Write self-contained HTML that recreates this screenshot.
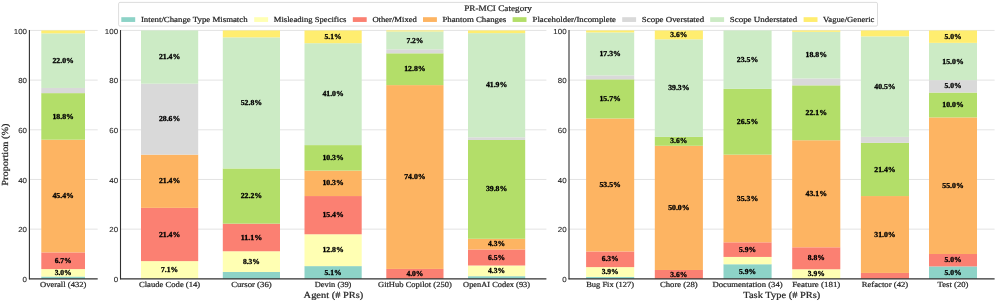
<!DOCTYPE html>
<html><head><meta charset="utf-8"><title>PR-MCI Category Proportions</title>
<style>
html,body{margin:0;padding:0;background:#ffffff;}
body{width:997px;height:302px;overflow:hidden;font-family:"Liberation Serif",serif;}
svg{display:block;will-change:transform;}
</style></head>
<body>
<svg width="997" height="302" viewBox="0 0 997 302" text-rendering="geometricPrecision">
<rect x="0" y="0" width="997" height="302" fill="#ffffff"/>
<line x1="29.40" x2="97.70" y1="229.17" y2="229.17" stroke="#d2d2d2" stroke-width="0.6"/>
<line x1="29.40" x2="97.70" y1="179.49" y2="179.49" stroke="#d2d2d2" stroke-width="0.6"/>
<line x1="29.40" x2="97.70" y1="129.81" y2="129.81" stroke="#d2d2d2" stroke-width="0.6"/>
<line x1="29.40" x2="97.70" y1="80.13" y2="80.13" stroke="#d2d2d2" stroke-width="0.6"/>
<line x1="29.40" x2="97.70" y1="30.45" y2="30.45" stroke="#d2d2d2" stroke-width="0.6"/>
<rect x="41.30" y="276.55" width="43.70" height="2.30" fill="#8dd3c7"/>
<rect x="41.30" y="269.08" width="43.70" height="7.47" fill="#ffffb3"/>
<rect x="41.30" y="252.40" width="43.70" height="16.68" fill="#fb8072"/>
<rect x="41.30" y="139.70" width="43.70" height="112.70" fill="#fdb462"/>
<rect x="41.30" y="93.12" width="43.70" height="46.58" fill="#b3de69"/>
<rect x="41.30" y="87.95" width="43.70" height="5.17" fill="#d9d9d9"/>
<rect x="41.30" y="33.32" width="43.70" height="54.63" fill="#ccebc5"/>
<rect x="41.30" y="30.45" width="43.70" height="2.88" fill="#ffed6f"/>
<text x="63.15" y="274.93" font-family="'Liberation Serif', serif" font-size="7.58" font-weight="bold" text-anchor="middle" textLength="17.00" lengthAdjust="spacingAndGlyphs" fill="#000000" stroke="#000000" stroke-width="0.3">3.0%</text>
<text x="63.15" y="262.85" font-family="'Liberation Serif', serif" font-size="7.58" font-weight="bold" text-anchor="middle" textLength="17.00" lengthAdjust="spacingAndGlyphs" fill="#000000" stroke="#000000" stroke-width="0.3">6.7%</text>
<text x="63.15" y="198.16" font-family="'Liberation Serif', serif" font-size="7.58" font-weight="bold" text-anchor="middle" textLength="21.40" lengthAdjust="spacingAndGlyphs" fill="#000000" stroke="#000000" stroke-width="0.3">45.4%</text>
<text x="63.15" y="118.53" font-family="'Liberation Serif', serif" font-size="7.58" font-weight="bold" text-anchor="middle" textLength="21.40" lengthAdjust="spacingAndGlyphs" fill="#000000" stroke="#000000" stroke-width="0.3">18.8%</text>
<text x="63.15" y="62.75" font-family="'Liberation Serif', serif" font-size="7.58" font-weight="bold" text-anchor="middle" textLength="21.40" lengthAdjust="spacingAndGlyphs" fill="#000000" stroke="#000000" stroke-width="0.3">22.0%</text>
<text x="63.15" y="286.65" font-family="'Liberation Serif', serif" font-size="7.76" font-weight="normal" text-anchor="middle" textLength="46.41" lengthAdjust="spacingAndGlyphs" fill="#262626" stroke="#262626" stroke-width="0.22">Overall (432)</text>
<line x1="29.40" x2="29.40" y1="30.05" y2="279.30" stroke="#303030" stroke-width="1.1"/>
<line x1="28.95" x2="97.70" y1="278.85" y2="278.85" stroke="#303030" stroke-width="1.1"/>
<text x="27.00" y="281.90" font-family="'Liberation Sans', sans-serif" font-size="7.28" font-weight="normal" text-anchor="end" textLength="4.41" lengthAdjust="spacingAndGlyphs" fill="#262626" stroke="#262626" stroke-width="0.1">0</text>
<text x="27.00" y="232.22" font-family="'Liberation Sans', sans-serif" font-size="7.28" font-weight="normal" text-anchor="end" textLength="8.82" lengthAdjust="spacingAndGlyphs" fill="#262626" stroke="#262626" stroke-width="0.1">20</text>
<text x="27.00" y="182.54" font-family="'Liberation Sans', sans-serif" font-size="7.28" font-weight="normal" text-anchor="end" textLength="8.82" lengthAdjust="spacingAndGlyphs" fill="#262626" stroke="#262626" stroke-width="0.1">40</text>
<text x="27.00" y="132.86" font-family="'Liberation Sans', sans-serif" font-size="7.28" font-weight="normal" text-anchor="end" textLength="8.82" lengthAdjust="spacingAndGlyphs" fill="#262626" stroke="#262626" stroke-width="0.1">60</text>
<text x="27.00" y="83.18" font-family="'Liberation Sans', sans-serif" font-size="7.28" font-weight="normal" text-anchor="end" textLength="8.82" lengthAdjust="spacingAndGlyphs" fill="#262626" stroke="#262626" stroke-width="0.1">80</text>
<text x="27.00" y="33.50" font-family="'Liberation Sans', sans-serif" font-size="7.28" font-weight="normal" text-anchor="end" textLength="13.23" lengthAdjust="spacingAndGlyphs" fill="#262626" stroke="#262626" stroke-width="0.1">100</text>
<line x1="120.50" x2="546.40" y1="229.17" y2="229.17" stroke="#d2d2d2" stroke-width="0.6"/>
<line x1="120.50" x2="546.40" y1="179.49" y2="179.49" stroke="#d2d2d2" stroke-width="0.6"/>
<line x1="120.50" x2="546.40" y1="129.81" y2="129.81" stroke="#d2d2d2" stroke-width="0.6"/>
<line x1="120.50" x2="546.40" y1="80.13" y2="80.13" stroke="#d2d2d2" stroke-width="0.6"/>
<line x1="120.50" x2="546.40" y1="30.45" y2="30.45" stroke="#d2d2d2" stroke-width="0.6"/>
<rect x="141.00" y="261.11" width="57.20" height="17.74" fill="#ffffb3"/>
<rect x="141.00" y="207.88" width="57.20" height="53.23" fill="#fb8072"/>
<rect x="141.00" y="154.65" width="57.20" height="53.23" fill="#fdb462"/>
<rect x="141.00" y="83.68" width="57.20" height="70.97" fill="#d9d9d9"/>
<rect x="141.00" y="30.45" width="57.20" height="53.23" fill="#ccebc5"/>
<text x="169.60" y="272.09" font-family="'Liberation Serif', serif" font-size="7.58" font-weight="bold" text-anchor="middle" textLength="17.00" lengthAdjust="spacingAndGlyphs" fill="#000000" stroke="#000000" stroke-width="0.3">7.1%</text>
<text x="169.60" y="236.61" font-family="'Liberation Serif', serif" font-size="7.58" font-weight="bold" text-anchor="middle" textLength="21.40" lengthAdjust="spacingAndGlyphs" fill="#000000" stroke="#000000" stroke-width="0.3">21.4%</text>
<text x="169.60" y="183.38" font-family="'Liberation Serif', serif" font-size="7.58" font-weight="bold" text-anchor="middle" textLength="21.40" lengthAdjust="spacingAndGlyphs" fill="#000000" stroke="#000000" stroke-width="0.3">21.4%</text>
<text x="169.60" y="121.28" font-family="'Liberation Serif', serif" font-size="7.58" font-weight="bold" text-anchor="middle" textLength="21.40" lengthAdjust="spacingAndGlyphs" fill="#000000" stroke="#000000" stroke-width="0.3">28.6%</text>
<text x="169.60" y="59.18" font-family="'Liberation Serif', serif" font-size="7.58" font-weight="bold" text-anchor="middle" textLength="21.40" lengthAdjust="spacingAndGlyphs" fill="#000000" stroke="#000000" stroke-width="0.3">21.4%</text>
<text x="169.60" y="286.65" font-family="'Liberation Serif', serif" font-size="7.76" font-weight="normal" text-anchor="middle" textLength="61.30" lengthAdjust="spacingAndGlyphs" fill="#262626" stroke="#262626" stroke-width="0.22">Claude Code (14)</text>
<rect x="222.80" y="271.95" width="57.20" height="6.90" fill="#8dd3c7"/>
<rect x="222.80" y="251.25" width="57.20" height="20.70" fill="#ffffb3"/>
<rect x="222.80" y="223.65" width="57.20" height="27.60" fill="#fb8072"/>
<rect x="222.80" y="168.45" width="57.20" height="55.20" fill="#b3de69"/>
<rect x="222.80" y="37.35" width="57.20" height="131.10" fill="#ccebc5"/>
<rect x="222.80" y="30.45" width="57.20" height="6.90" fill="#ffed6f"/>
<text x="251.40" y="263.71" font-family="'Liberation Serif', serif" font-size="7.58" font-weight="bold" text-anchor="middle" textLength="17.00" lengthAdjust="spacingAndGlyphs" fill="#000000" stroke="#000000" stroke-width="0.3">8.3%</text>
<text x="251.40" y="239.56" font-family="'Liberation Serif', serif" font-size="7.58" font-weight="bold" text-anchor="middle" textLength="21.40" lengthAdjust="spacingAndGlyphs" fill="#000000" stroke="#000000" stroke-width="0.3">11.1%</text>
<text x="251.40" y="198.16" font-family="'Liberation Serif', serif" font-size="7.58" font-weight="bold" text-anchor="middle" textLength="21.40" lengthAdjust="spacingAndGlyphs" fill="#000000" stroke="#000000" stroke-width="0.3">22.2%</text>
<text x="251.40" y="105.01" font-family="'Liberation Serif', serif" font-size="7.58" font-weight="bold" text-anchor="middle" textLength="21.40" lengthAdjust="spacingAndGlyphs" fill="#000000" stroke="#000000" stroke-width="0.3">52.8%</text>
<text x="251.40" y="286.65" font-family="'Liberation Serif', serif" font-size="7.76" font-weight="normal" text-anchor="middle" textLength="40.55" lengthAdjust="spacingAndGlyphs" fill="#262626" stroke="#262626" stroke-width="0.22">Cursor (36)</text>
<rect x="304.50" y="266.11" width="57.20" height="12.74" fill="#8dd3c7"/>
<rect x="304.50" y="234.27" width="57.20" height="31.85" fill="#ffffb3"/>
<rect x="304.50" y="196.05" width="57.20" height="38.22" fill="#fb8072"/>
<rect x="304.50" y="170.57" width="57.20" height="25.48" fill="#fdb462"/>
<rect x="304.50" y="145.10" width="57.20" height="25.48" fill="#b3de69"/>
<rect x="304.50" y="43.19" width="57.20" height="101.91" fill="#ccebc5"/>
<rect x="304.50" y="30.45" width="57.20" height="12.74" fill="#ffed6f"/>
<text x="333.10" y="274.59" font-family="'Liberation Serif', serif" font-size="7.58" font-weight="bold" text-anchor="middle" textLength="17.00" lengthAdjust="spacingAndGlyphs" fill="#000000" stroke="#000000" stroke-width="0.3">5.1%</text>
<text x="333.10" y="252.30" font-family="'Liberation Serif', serif" font-size="7.58" font-weight="bold" text-anchor="middle" textLength="21.40" lengthAdjust="spacingAndGlyphs" fill="#000000" stroke="#000000" stroke-width="0.3">12.8%</text>
<text x="333.10" y="217.27" font-family="'Liberation Serif', serif" font-size="7.58" font-weight="bold" text-anchor="middle" textLength="21.40" lengthAdjust="spacingAndGlyphs" fill="#000000" stroke="#000000" stroke-width="0.3">15.4%</text>
<text x="333.10" y="185.42" font-family="'Liberation Serif', serif" font-size="7.58" font-weight="bold" text-anchor="middle" textLength="21.40" lengthAdjust="spacingAndGlyphs" fill="#000000" stroke="#000000" stroke-width="0.3">10.3%</text>
<text x="333.10" y="159.95" font-family="'Liberation Serif', serif" font-size="7.58" font-weight="bold" text-anchor="middle" textLength="21.40" lengthAdjust="spacingAndGlyphs" fill="#000000" stroke="#000000" stroke-width="0.3">10.3%</text>
<text x="333.10" y="96.26" font-family="'Liberation Serif', serif" font-size="7.58" font-weight="bold" text-anchor="middle" textLength="21.40" lengthAdjust="spacingAndGlyphs" fill="#000000" stroke="#000000" stroke-width="0.3">41.0%</text>
<text x="333.10" y="38.93" font-family="'Liberation Serif', serif" font-size="7.58" font-weight="bold" text-anchor="middle" textLength="17.00" lengthAdjust="spacingAndGlyphs" fill="#000000" stroke="#000000" stroke-width="0.3">5.1%</text>
<text x="333.10" y="286.65" font-family="'Liberation Serif', serif" font-size="7.76" font-weight="normal" text-anchor="middle" textLength="36.68" lengthAdjust="spacingAndGlyphs" fill="#262626" stroke="#262626" stroke-width="0.22">Devin (39)</text>
<rect x="386.30" y="268.91" width="57.20" height="9.94" fill="#fb8072"/>
<rect x="386.30" y="85.10" width="57.20" height="183.82" fill="#fdb462"/>
<rect x="386.30" y="53.30" width="57.20" height="31.80" fill="#b3de69"/>
<rect x="386.30" y="49.33" width="57.20" height="3.97" fill="#d9d9d9"/>
<rect x="386.30" y="31.44" width="57.20" height="17.88" fill="#ccebc5"/>
<rect x="386.30" y="30.45" width="57.20" height="0.99" fill="#ffed6f"/>
<text x="414.90" y="276.00" font-family="'Liberation Serif', serif" font-size="7.58" font-weight="bold" text-anchor="middle" textLength="17.00" lengthAdjust="spacingAndGlyphs" fill="#000000" stroke="#000000" stroke-width="0.3">4.0%</text>
<text x="414.90" y="179.12" font-family="'Liberation Serif', serif" font-size="7.58" font-weight="bold" text-anchor="middle" textLength="21.40" lengthAdjust="spacingAndGlyphs" fill="#000000" stroke="#000000" stroke-width="0.3">74.0%</text>
<text x="414.90" y="71.31" font-family="'Liberation Serif', serif" font-size="7.58" font-weight="bold" text-anchor="middle" textLength="21.40" lengthAdjust="spacingAndGlyphs" fill="#000000" stroke="#000000" stroke-width="0.3">12.8%</text>
<text x="414.90" y="42.50" font-family="'Liberation Serif', serif" font-size="7.58" font-weight="bold" text-anchor="middle" textLength="17.00" lengthAdjust="spacingAndGlyphs" fill="#000000" stroke="#000000" stroke-width="0.3">7.2%</text>
<text x="414.90" y="286.65" font-family="'Liberation Serif', serif" font-size="7.76" font-weight="normal" text-anchor="middle" textLength="73.82" lengthAdjust="spacingAndGlyphs" fill="#262626" stroke="#262626" stroke-width="0.22">GitHub Copilot (250)</text>
<rect x="468.00" y="276.18" width="57.20" height="2.67" fill="#8dd3c7"/>
<rect x="468.00" y="265.50" width="57.20" height="10.68" fill="#ffffb3"/>
<rect x="468.00" y="249.47" width="57.20" height="16.03" fill="#fb8072"/>
<rect x="468.00" y="238.79" width="57.20" height="10.68" fill="#fdb462"/>
<rect x="468.00" y="139.96" width="57.20" height="98.83" fill="#b3de69"/>
<rect x="468.00" y="137.29" width="57.20" height="2.67" fill="#d9d9d9"/>
<rect x="468.00" y="33.12" width="57.20" height="104.17" fill="#ccebc5"/>
<rect x="468.00" y="30.45" width="57.20" height="2.67" fill="#ffed6f"/>
<text x="496.60" y="272.95" font-family="'Liberation Serif', serif" font-size="7.58" font-weight="bold" text-anchor="middle" textLength="17.00" lengthAdjust="spacingAndGlyphs" fill="#000000" stroke="#000000" stroke-width="0.3">4.3%</text>
<text x="496.60" y="259.60" font-family="'Liberation Serif', serif" font-size="7.58" font-weight="bold" text-anchor="middle" textLength="17.00" lengthAdjust="spacingAndGlyphs" fill="#000000" stroke="#000000" stroke-width="0.3">6.5%</text>
<text x="496.60" y="246.24" font-family="'Liberation Serif', serif" font-size="7.58" font-weight="bold" text-anchor="middle" textLength="17.00" lengthAdjust="spacingAndGlyphs" fill="#000000" stroke="#000000" stroke-width="0.3">4.3%</text>
<text x="496.60" y="191.49" font-family="'Liberation Serif', serif" font-size="7.58" font-weight="bold" text-anchor="middle" textLength="21.40" lengthAdjust="spacingAndGlyphs" fill="#000000" stroke="#000000" stroke-width="0.3">39.8%</text>
<text x="496.60" y="87.32" font-family="'Liberation Serif', serif" font-size="7.58" font-weight="bold" text-anchor="middle" textLength="21.40" lengthAdjust="spacingAndGlyphs" fill="#000000" stroke="#000000" stroke-width="0.3">41.9%</text>
<text x="496.60" y="286.65" font-family="'Liberation Serif', serif" font-size="7.76" font-weight="normal" text-anchor="middle" textLength="66.98" lengthAdjust="spacingAndGlyphs" fill="#262626" stroke="#262626" stroke-width="0.22">OpenAI Codex (93)</text>
<line x1="120.50" x2="120.50" y1="30.05" y2="279.30" stroke="#303030" stroke-width="1.1"/>
<line x1="120.05" x2="546.40" y1="278.85" y2="278.85" stroke="#303030" stroke-width="1.1"/>
<text x="118.10" y="281.90" font-family="'Liberation Sans', sans-serif" font-size="7.28" font-weight="normal" text-anchor="end" textLength="4.41" lengthAdjust="spacingAndGlyphs" fill="#262626" stroke="#262626" stroke-width="0.1">0</text>
<text x="118.10" y="232.22" font-family="'Liberation Sans', sans-serif" font-size="7.28" font-weight="normal" text-anchor="end" textLength="8.82" lengthAdjust="spacingAndGlyphs" fill="#262626" stroke="#262626" stroke-width="0.1">20</text>
<text x="118.10" y="182.54" font-family="'Liberation Sans', sans-serif" font-size="7.28" font-weight="normal" text-anchor="end" textLength="8.82" lengthAdjust="spacingAndGlyphs" fill="#262626" stroke="#262626" stroke-width="0.1">40</text>
<text x="118.10" y="132.86" font-family="'Liberation Sans', sans-serif" font-size="7.28" font-weight="normal" text-anchor="end" textLength="8.82" lengthAdjust="spacingAndGlyphs" fill="#262626" stroke="#262626" stroke-width="0.1">60</text>
<text x="118.10" y="83.18" font-family="'Liberation Sans', sans-serif" font-size="7.28" font-weight="normal" text-anchor="end" textLength="8.82" lengthAdjust="spacingAndGlyphs" fill="#262626" stroke="#262626" stroke-width="0.1">80</text>
<text x="118.10" y="33.50" font-family="'Liberation Sans', sans-serif" font-size="7.28" font-weight="normal" text-anchor="end" textLength="13.23" lengthAdjust="spacingAndGlyphs" fill="#262626" stroke="#262626" stroke-width="0.1">100</text>
<text x="333.45" y="297.60" font-family="'Liberation Serif', serif" font-size="9.30" font-weight="normal" text-anchor="middle" textLength="59.70" lengthAdjust="spacingAndGlyphs" fill="#262626" stroke="#262626" stroke-width="0.22">Agent (# PRs)</text>
<line x1="569.00" x2="994.60" y1="229.17" y2="229.17" stroke="#d2d2d2" stroke-width="0.6"/>
<line x1="569.00" x2="994.60" y1="179.49" y2="179.49" stroke="#d2d2d2" stroke-width="0.6"/>
<line x1="569.00" x2="994.60" y1="129.81" y2="129.81" stroke="#d2d2d2" stroke-width="0.6"/>
<line x1="569.00" x2="994.60" y1="80.13" y2="80.13" stroke="#d2d2d2" stroke-width="0.6"/>
<line x1="569.00" x2="994.60" y1="30.45" y2="30.45" stroke="#d2d2d2" stroke-width="0.6"/>
<rect x="586.10" y="276.89" width="48.10" height="1.96" fill="#8dd3c7"/>
<rect x="586.10" y="267.11" width="48.10" height="9.78" fill="#ffffb3"/>
<rect x="586.10" y="251.47" width="48.10" height="15.65" fill="#fb8072"/>
<rect x="586.10" y="118.47" width="48.10" height="133.00" fill="#fdb462"/>
<rect x="586.10" y="79.35" width="48.10" height="39.12" fill="#b3de69"/>
<rect x="586.10" y="75.44" width="48.10" height="3.91" fill="#d9d9d9"/>
<rect x="586.10" y="32.41" width="48.10" height="43.03" fill="#ccebc5"/>
<rect x="586.10" y="30.45" width="48.10" height="1.96" fill="#ffed6f"/>
<text x="610.15" y="274.12" font-family="'Liberation Serif', serif" font-size="7.58" font-weight="bold" text-anchor="middle" textLength="17.00" lengthAdjust="spacingAndGlyphs" fill="#000000" stroke="#000000" stroke-width="0.3">3.9%</text>
<text x="610.15" y="261.40" font-family="'Liberation Serif', serif" font-size="7.58" font-weight="bold" text-anchor="middle" textLength="17.00" lengthAdjust="spacingAndGlyphs" fill="#000000" stroke="#000000" stroke-width="0.3">6.3%</text>
<text x="610.15" y="187.08" font-family="'Liberation Serif', serif" font-size="7.58" font-weight="bold" text-anchor="middle" textLength="21.40" lengthAdjust="spacingAndGlyphs" fill="#000000" stroke="#000000" stroke-width="0.3">53.5%</text>
<text x="610.15" y="101.02" font-family="'Liberation Serif', serif" font-size="7.58" font-weight="bold" text-anchor="middle" textLength="21.40" lengthAdjust="spacingAndGlyphs" fill="#000000" stroke="#000000" stroke-width="0.3">15.7%</text>
<text x="610.15" y="56.03" font-family="'Liberation Serif', serif" font-size="7.58" font-weight="bold" text-anchor="middle" textLength="21.40" lengthAdjust="spacingAndGlyphs" fill="#000000" stroke="#000000" stroke-width="0.3">17.3%</text>
<text x="610.15" y="286.65" font-family="'Liberation Serif', serif" font-size="7.76" font-weight="normal" text-anchor="middle" textLength="47.97" lengthAdjust="spacingAndGlyphs" fill="#262626" stroke="#262626" stroke-width="0.22">Bug Fix (127)</text>
<rect x="654.80" y="269.98" width="48.10" height="8.87" fill="#fb8072"/>
<rect x="654.80" y="145.78" width="48.10" height="124.20" fill="#fdb462"/>
<rect x="654.80" y="136.91" width="48.10" height="8.87" fill="#b3de69"/>
<rect x="654.80" y="39.32" width="48.10" height="97.59" fill="#ccebc5"/>
<rect x="654.80" y="30.45" width="48.10" height="8.87" fill="#ffed6f"/>
<text x="678.85" y="276.53" font-family="'Liberation Serif', serif" font-size="7.58" font-weight="bold" text-anchor="middle" textLength="17.00" lengthAdjust="spacingAndGlyphs" fill="#000000" stroke="#000000" stroke-width="0.3">3.6%</text>
<text x="678.85" y="209.99" font-family="'Liberation Serif', serif" font-size="7.58" font-weight="bold" text-anchor="middle" textLength="21.40" lengthAdjust="spacingAndGlyphs" fill="#000000" stroke="#000000" stroke-width="0.3">50.0%</text>
<text x="678.85" y="143.46" font-family="'Liberation Serif', serif" font-size="7.58" font-weight="bold" text-anchor="middle" textLength="17.00" lengthAdjust="spacingAndGlyphs" fill="#000000" stroke="#000000" stroke-width="0.3">3.6%</text>
<text x="678.85" y="90.23" font-family="'Liberation Serif', serif" font-size="7.58" font-weight="bold" text-anchor="middle" textLength="21.40" lengthAdjust="spacingAndGlyphs" fill="#000000" stroke="#000000" stroke-width="0.3">39.3%</text>
<text x="678.85" y="37.00" font-family="'Liberation Serif', serif" font-size="7.58" font-weight="bold" text-anchor="middle" textLength="17.00" lengthAdjust="spacingAndGlyphs" fill="#000000" stroke="#000000" stroke-width="0.3">3.6%</text>
<text x="678.85" y="286.65" font-family="'Liberation Serif', serif" font-size="7.76" font-weight="normal" text-anchor="middle" textLength="37.78" lengthAdjust="spacingAndGlyphs" fill="#262626" stroke="#262626" stroke-width="0.22">Chore (28)</text>
<rect x="723.50" y="264.24" width="48.10" height="14.61" fill="#8dd3c7"/>
<rect x="723.50" y="256.93" width="48.10" height="7.31" fill="#ffffb3"/>
<rect x="723.50" y="242.32" width="48.10" height="14.61" fill="#fb8072"/>
<rect x="723.50" y="154.65" width="48.10" height="87.67" fill="#fdb462"/>
<rect x="723.50" y="88.90" width="48.10" height="65.75" fill="#b3de69"/>
<rect x="723.50" y="30.45" width="48.10" height="58.45" fill="#ccebc5"/>
<text x="747.55" y="273.66" font-family="'Liberation Serif', serif" font-size="7.58" font-weight="bold" text-anchor="middle" textLength="17.00" lengthAdjust="spacingAndGlyphs" fill="#000000" stroke="#000000" stroke-width="0.3">5.9%</text>
<text x="747.55" y="251.74" font-family="'Liberation Serif', serif" font-size="7.58" font-weight="bold" text-anchor="middle" textLength="17.00" lengthAdjust="spacingAndGlyphs" fill="#000000" stroke="#000000" stroke-width="0.3">5.9%</text>
<text x="747.55" y="200.60" font-family="'Liberation Serif', serif" font-size="7.58" font-weight="bold" text-anchor="middle" textLength="21.40" lengthAdjust="spacingAndGlyphs" fill="#000000" stroke="#000000" stroke-width="0.3">35.3%</text>
<text x="747.55" y="123.89" font-family="'Liberation Serif', serif" font-size="7.58" font-weight="bold" text-anchor="middle" textLength="21.40" lengthAdjust="spacingAndGlyphs" fill="#000000" stroke="#000000" stroke-width="0.3">26.5%</text>
<text x="747.55" y="61.79" font-family="'Liberation Serif', serif" font-size="7.58" font-weight="bold" text-anchor="middle" textLength="21.40" lengthAdjust="spacingAndGlyphs" fill="#000000" stroke="#000000" stroke-width="0.3">23.5%</text>
<text x="747.55" y="286.65" font-family="'Liberation Serif', serif" font-size="7.76" font-weight="normal" text-anchor="middle" textLength="70.19" lengthAdjust="spacingAndGlyphs" fill="#262626" stroke="#262626" stroke-width="0.22">Documentation (34)</text>
<rect x="792.20" y="269.24" width="48.10" height="9.61" fill="#ffffb3"/>
<rect x="792.20" y="247.29" width="48.10" height="21.96" fill="#fb8072"/>
<rect x="792.20" y="140.24" width="48.10" height="107.05" fill="#fdb462"/>
<rect x="792.20" y="85.35" width="48.10" height="54.90" fill="#b3de69"/>
<rect x="792.20" y="78.48" width="48.10" height="6.86" fill="#d9d9d9"/>
<rect x="792.20" y="31.82" width="48.10" height="46.66" fill="#ccebc5"/>
<rect x="792.20" y="30.45" width="48.10" height="1.37" fill="#ffed6f"/>
<text x="816.25" y="276.16" font-family="'Liberation Serif', serif" font-size="7.58" font-weight="bold" text-anchor="middle" textLength="17.00" lengthAdjust="spacingAndGlyphs" fill="#000000" stroke="#000000" stroke-width="0.3">3.9%</text>
<text x="816.25" y="260.38" font-family="'Liberation Serif', serif" font-size="7.58" font-weight="bold" text-anchor="middle" textLength="17.00" lengthAdjust="spacingAndGlyphs" fill="#000000" stroke="#000000" stroke-width="0.3">8.8%</text>
<text x="816.25" y="195.88" font-family="'Liberation Serif', serif" font-size="7.58" font-weight="bold" text-anchor="middle" textLength="21.40" lengthAdjust="spacingAndGlyphs" fill="#000000" stroke="#000000" stroke-width="0.3">43.1%</text>
<text x="816.25" y="114.91" font-family="'Liberation Serif', serif" font-size="7.58" font-weight="bold" text-anchor="middle" textLength="21.40" lengthAdjust="spacingAndGlyphs" fill="#000000" stroke="#000000" stroke-width="0.3">22.1%</text>
<text x="816.25" y="57.27" font-family="'Liberation Serif', serif" font-size="7.58" font-weight="bold" text-anchor="middle" textLength="21.40" lengthAdjust="spacingAndGlyphs" fill="#000000" stroke="#000000" stroke-width="0.3">18.8%</text>
<text x="816.25" y="286.65" font-family="'Liberation Serif', serif" font-size="7.76" font-weight="normal" text-anchor="middle" textLength="48.16" lengthAdjust="spacingAndGlyphs" fill="#262626" stroke="#262626" stroke-width="0.22">Feature (181)</text>
<rect x="860.90" y="272.94" width="48.10" height="5.91" fill="#fb8072"/>
<rect x="860.90" y="196.05" width="48.10" height="76.89" fill="#fdb462"/>
<rect x="860.90" y="142.82" width="48.10" height="53.23" fill="#b3de69"/>
<rect x="860.90" y="136.91" width="48.10" height="5.91" fill="#d9d9d9"/>
<rect x="860.90" y="36.36" width="48.10" height="100.54" fill="#ccebc5"/>
<rect x="860.90" y="30.45" width="48.10" height="5.91" fill="#ffed6f"/>
<text x="884.95" y="236.61" font-family="'Liberation Serif', serif" font-size="7.58" font-weight="bold" text-anchor="middle" textLength="21.40" lengthAdjust="spacingAndGlyphs" fill="#000000" stroke="#000000" stroke-width="0.3">31.0%</text>
<text x="884.95" y="171.55" font-family="'Liberation Serif', serif" font-size="7.58" font-weight="bold" text-anchor="middle" textLength="21.40" lengthAdjust="spacingAndGlyphs" fill="#000000" stroke="#000000" stroke-width="0.3">21.4%</text>
<text x="884.95" y="88.75" font-family="'Liberation Serif', serif" font-size="7.58" font-weight="bold" text-anchor="middle" textLength="21.40" lengthAdjust="spacingAndGlyphs" fill="#000000" stroke="#000000" stroke-width="0.3">40.5%</text>
<text x="884.95" y="286.65" font-family="'Liberation Serif', serif" font-size="7.76" font-weight="normal" text-anchor="middle" textLength="46.60" lengthAdjust="spacingAndGlyphs" fill="#262626" stroke="#262626" stroke-width="0.22">Refactor (42)</text>
<rect x="929.00" y="266.43" width="48.00" height="12.42" fill="#8dd3c7"/>
<rect x="929.00" y="254.01" width="48.00" height="12.42" fill="#fb8072"/>
<rect x="929.00" y="117.39" width="48.00" height="136.62" fill="#fdb462"/>
<rect x="929.00" y="92.55" width="48.00" height="24.84" fill="#b3de69"/>
<rect x="929.00" y="80.13" width="48.00" height="12.42" fill="#d9d9d9"/>
<rect x="929.00" y="42.87" width="48.00" height="37.26" fill="#ccebc5"/>
<rect x="929.00" y="30.45" width="48.00" height="12.42" fill="#ffed6f"/>
<text x="953.00" y="274.75" font-family="'Liberation Serif', serif" font-size="7.58" font-weight="bold" text-anchor="middle" textLength="17.00" lengthAdjust="spacingAndGlyphs" fill="#000000" stroke="#000000" stroke-width="0.3">5.0%</text>
<text x="953.00" y="262.33" font-family="'Liberation Serif', serif" font-size="7.58" font-weight="bold" text-anchor="middle" textLength="17.00" lengthAdjust="spacingAndGlyphs" fill="#000000" stroke="#000000" stroke-width="0.3">5.0%</text>
<text x="953.00" y="187.81" font-family="'Liberation Serif', serif" font-size="7.58" font-weight="bold" text-anchor="middle" textLength="21.40" lengthAdjust="spacingAndGlyphs" fill="#000000" stroke="#000000" stroke-width="0.3">55.0%</text>
<text x="953.00" y="107.08" font-family="'Liberation Serif', serif" font-size="7.58" font-weight="bold" text-anchor="middle" textLength="21.40" lengthAdjust="spacingAndGlyphs" fill="#000000" stroke="#000000" stroke-width="0.3">10.0%</text>
<text x="953.00" y="88.45" font-family="'Liberation Serif', serif" font-size="7.58" font-weight="bold" text-anchor="middle" textLength="17.00" lengthAdjust="spacingAndGlyphs" fill="#000000" stroke="#000000" stroke-width="0.3">5.0%</text>
<text x="953.00" y="63.61" font-family="'Liberation Serif', serif" font-size="7.58" font-weight="bold" text-anchor="middle" textLength="21.40" lengthAdjust="spacingAndGlyphs" fill="#000000" stroke="#000000" stroke-width="0.3">15.0%</text>
<text x="953.00" y="38.77" font-family="'Liberation Serif', serif" font-size="7.58" font-weight="bold" text-anchor="middle" textLength="17.00" lengthAdjust="spacingAndGlyphs" fill="#000000" stroke="#000000" stroke-width="0.3">5.0%</text>
<text x="953.00" y="286.65" font-family="'Liberation Serif', serif" font-size="7.76" font-weight="normal" text-anchor="middle" textLength="30.96" lengthAdjust="spacingAndGlyphs" fill="#262626" stroke="#262626" stroke-width="0.22">Test (20)</text>
<line x1="569.00" x2="569.00" y1="30.05" y2="279.30" stroke="#303030" stroke-width="1.1"/>
<line x1="568.55" x2="994.60" y1="278.85" y2="278.85" stroke="#303030" stroke-width="1.1"/>
<text x="566.60" y="281.90" font-family="'Liberation Sans', sans-serif" font-size="7.28" font-weight="normal" text-anchor="end" textLength="4.41" lengthAdjust="spacingAndGlyphs" fill="#262626" stroke="#262626" stroke-width="0.1">0</text>
<text x="566.60" y="232.22" font-family="'Liberation Sans', sans-serif" font-size="7.28" font-weight="normal" text-anchor="end" textLength="8.82" lengthAdjust="spacingAndGlyphs" fill="#262626" stroke="#262626" stroke-width="0.1">20</text>
<text x="566.60" y="182.54" font-family="'Liberation Sans', sans-serif" font-size="7.28" font-weight="normal" text-anchor="end" textLength="8.82" lengthAdjust="spacingAndGlyphs" fill="#262626" stroke="#262626" stroke-width="0.1">40</text>
<text x="566.60" y="132.86" font-family="'Liberation Sans', sans-serif" font-size="7.28" font-weight="normal" text-anchor="end" textLength="8.82" lengthAdjust="spacingAndGlyphs" fill="#262626" stroke="#262626" stroke-width="0.1">60</text>
<text x="566.60" y="83.18" font-family="'Liberation Sans', sans-serif" font-size="7.28" font-weight="normal" text-anchor="end" textLength="8.82" lengthAdjust="spacingAndGlyphs" fill="#262626" stroke="#262626" stroke-width="0.1">80</text>
<text x="566.60" y="33.50" font-family="'Liberation Sans', sans-serif" font-size="7.28" font-weight="normal" text-anchor="end" textLength="13.23" lengthAdjust="spacingAndGlyphs" fill="#262626" stroke="#262626" stroke-width="0.1">100</text>
<text x="781.80" y="297.60" font-family="'Liberation Serif', serif" font-size="9.30" font-weight="normal" text-anchor="middle" textLength="77.02" lengthAdjust="spacingAndGlyphs" fill="#262626" stroke="#262626" stroke-width="0.22">Task Type (# PRs)</text>
<g transform="translate(8.1,154.6) rotate(-90)">
<text x="0.00" y="0.00" font-family="'Liberation Serif', serif" font-size="9.30" font-weight="normal" text-anchor="middle" textLength="62.16" lengthAdjust="spacingAndGlyphs" fill="#262626" stroke="#262626" stroke-width="0.22">Proportion (%)</text>
</g>
<rect x="118.6" y="2.4" width="758.9" height="23.7" rx="1.4" ry="1.4" fill="#ffffff" fill-opacity="0.8" stroke="#cfcfcf" stroke-width="0.7"/>
<text x="498.10" y="11.45" font-family="'Liberation Serif', serif" font-size="8.51" font-weight="normal" text-anchor="middle" textLength="67.68" lengthAdjust="spacingAndGlyphs" fill="#262626" stroke="#262626" stroke-width="0.22">PR-MCI Category</text>
<rect x="121.30" y="17.2" width="13.9" height="4.75" fill="#8dd3c7"/>
<text x="140.90" y="21.90" font-family="'Liberation Serif', serif" font-size="7.76" font-weight="normal" text-anchor="start" textLength="106.75" lengthAdjust="spacingAndGlyphs" fill="#262626" stroke="#262626" stroke-width="0.22">Intent/Change Type Mismatch</text>
<rect x="254.20" y="17.2" width="13.9" height="4.75" fill="#ffffb3"/>
<text x="273.80" y="21.90" font-family="'Liberation Serif', serif" font-size="7.76" font-weight="normal" text-anchor="start" textLength="72.52" lengthAdjust="spacingAndGlyphs" fill="#262626" stroke="#262626" stroke-width="0.22">Misleading Specifics</text>
<rect x="352.80" y="17.2" width="13.9" height="4.75" fill="#fb8072"/>
<text x="372.40" y="21.90" font-family="'Liberation Serif', serif" font-size="7.76" font-weight="normal" text-anchor="start" textLength="44.44" lengthAdjust="spacingAndGlyphs" fill="#262626" stroke="#262626" stroke-width="0.22">Other/Mixed</text>
<rect x="423.00" y="17.2" width="13.9" height="4.75" fill="#fdb462"/>
<text x="442.40" y="21.90" font-family="'Liberation Serif', serif" font-size="7.76" font-weight="normal" text-anchor="start" textLength="63.91" lengthAdjust="spacingAndGlyphs" fill="#262626" stroke="#262626" stroke-width="0.22">Phantom Changes</text>
<rect x="512.60" y="17.2" width="13.9" height="4.75" fill="#b3de69"/>
<text x="532.50" y="21.90" font-family="'Liberation Serif', serif" font-size="7.76" font-weight="normal" text-anchor="start" textLength="83.50" lengthAdjust="spacingAndGlyphs" fill="#262626" stroke="#262626" stroke-width="0.22">Placeholder/Incomplete</text>
<rect x="622.20" y="17.2" width="13.9" height="4.75" fill="#d9d9d9"/>
<text x="641.85" y="21.90" font-family="'Liberation Serif', serif" font-size="7.76" font-weight="normal" text-anchor="start" textLength="62.35" lengthAdjust="spacingAndGlyphs" fill="#262626" stroke="#262626" stroke-width="0.22">Scope Overstated</text>
<rect x="710.20" y="17.2" width="13.9" height="4.75" fill="#ccebc5"/>
<text x="729.70" y="21.90" font-family="'Liberation Serif', serif" font-size="7.76" font-weight="normal" text-anchor="start" textLength="67.49" lengthAdjust="spacingAndGlyphs" fill="#262626" stroke="#262626" stroke-width="0.22">Scope Understated</text>
<rect x="803.60" y="17.2" width="13.9" height="4.75" fill="#ffed6f"/>
<text x="823.00" y="21.90" font-family="'Liberation Serif', serif" font-size="7.76" font-weight="normal" text-anchor="start" textLength="51.45" lengthAdjust="spacingAndGlyphs" fill="#262626" stroke="#262626" stroke-width="0.22">Vague/Generic</text>
</svg>
</body></html>
